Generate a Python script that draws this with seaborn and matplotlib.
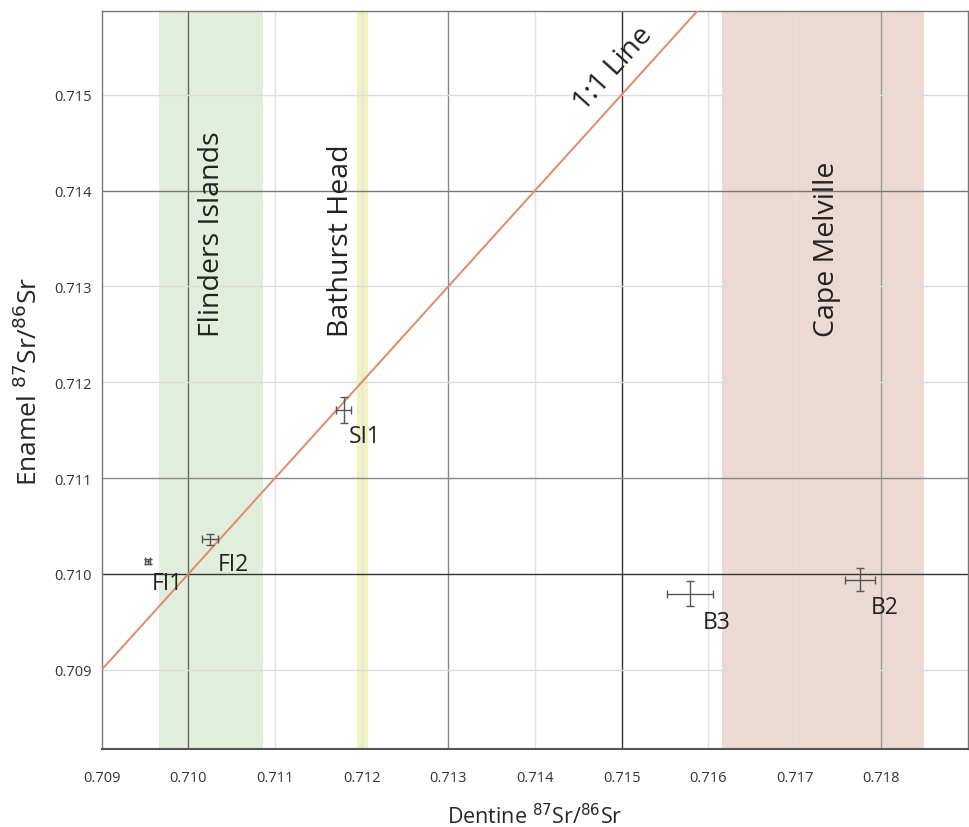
import numpy as np
import pandas as pd
import matplotlib
matplotlib.use("Agg")
import matplotlib.pyplot as plt
import seaborn as sns

# samples: dentine (x) vs enamel (y) 87Sr/86Sr with 2-sigma errors
samples = ["FI1", "FI2", "SI1", "B3", "B2"]
dentine = [0.70953, 0.71025, 0.71179, 0.71579, 0.71775]
dentine_err = [0.00003, 0.00009, 0.00009, 0.00027, 0.00017]
enamel = [0.71013, 0.71036, 0.71171, 0.70979, 0.70994]
enamel_err = [0.00003, 0.00006, 0.00014, 0.00013, 0.00012]

# local baseline ranges (dentine axis)
regions = ["Flinders Islands", "Bathurst Head", "Cape Melville"]
region_lo = [0.70966, 0.71195, 0.71616]
region_hi = [0.71086, 0.71207, 0.71849]
region_colors = ["#dcebd6", "#eef0b8", "#e8d3cb"]

one_to_one = [0.709, 0.7159]

xticks = [0.709, 0.710, 0.711, 0.712, 0.713, 0.714, 0.715, 0.716, 0.717, 0.718]
yticks = [0.709, 0.710, 0.711, 0.712, 0.713, 0.714, 0.715]

df = pd.DataFrame({"sample": samples, "dentine": dentine, "enamel": enamel,
                   "xerr": dentine_err, "yerr": enamel_err})

sns.set_style("white")
plt.rcParams["font.family"] = ["Open Sans", "DejaVu Sans"]

fig = plt.figure(figsize=(9.7, 8.28), dpi=100)
ax = fig.add_axes([0.105, 0.094, 0.893, 0.891])

ax.set_xlim(0.709, 0.719)
ax.set_ylim(0.70817, 0.71587)

# grid lines, some darker than others like in the original
vcol = {0.710: "#666666", 0.713: "#888888", 0.715: "#333333", 0.718: "#999999"}
hcol = {0.710: "#333333", 0.711: "#888888", 0.714: "#777777"}
for v in xticks[1:]:
    c = vcol.get(round(v, 3), "#e2e2e2")
    ax.axvline(v, color=c, lw=1.0, zorder=1)
for v in yticks:
    c = hcol.get(round(v, 3), "#dddddd")
    ax.axhline(v, color=c, lw=1.0, zorder=1)

for name, lo, hi, col in zip(regions, region_lo, region_hi, region_colors):
    ax.axvspan(lo, hi, color=col, alpha=0.85, lw=0, zorder=0.5)

# region labels
label_x = {"Flinders Islands": 0.71027, "Bathurst Head": 0.71176, "Cape Melville": 0.71737}
for name in regions:
    ax.text(label_x[name], 0.71248, name, rotation=90, ha="center", va="bottom",
            fontsize=20.5, color="#222222", zorder=5)

# 1:1 line
sns.lineplot(x=one_to_one, y=one_to_one, ax=ax, color="#e08a6a", lw=1.4, zorder=3)
ax.text(0.71490, 0.71528, "1:1 Line", rotation=47.9, ha="center", va="center",
        fontsize=20.5, color="#222222", zorder=5, rotation_mode="anchor")

# error bars (no markers)
ax.errorbar(df["dentine"], df["enamel"], xerr=df["xerr"], yerr=df["yerr"],
            fmt="none", ecolor="#555555", elinewidth=1.0, capsize=3, capthick=1.0,
            zorder=4)

label_off = {"FI1": (0.00023, -0.00023), "FI2": (0.00027, -0.00026),
             "SI1": (0.00025, -0.00027), "B3": (0.00031, -0.00029),
             "B2": (0.00029, -0.00029)}
for _, r in df.iterrows():
    dx, dy = label_off[r["sample"]]
    ax.text(r["dentine"] + dx, r["enamel"] + dy, r["sample"], ha="center", va="center",
            fontsize=16.5, color="#222222", zorder=5)

ax.set_xticks(xticks)
ax.set_yticks(yticks)
ax.set_xticklabels([f"{t:.3f}" for t in xticks], fontsize=10.5, color="#333333")
ax.set_yticklabels([f"{t:.3f}" for t in yticks], fontsize=10.5, color="#333333")
ax.tick_params(axis="x", direction="inout", length=6, width=1, color="#555555", pad=12)
ax.tick_params(axis="y", direction="out", length=4, width=1, color="#555555", pad=3)

for s in ax.spines.values():
    s.set_color("#777777")
    s.set_linewidth(1.0)
ax.spines["bottom"].set_color("#555555")
ax.spines["bottom"].set_linewidth(1.5)

ax.set_xlabel("Dentine $^{87}$Sr/$^{86}$Sr", fontsize=15.5, labelpad=13)
ax.set_ylabel("Enamel $^{87}$Sr/$^{86}$Sr", fontsize=19, labelpad=8)

fig.savefig("out.png", dpi=100, facecolor="white")
